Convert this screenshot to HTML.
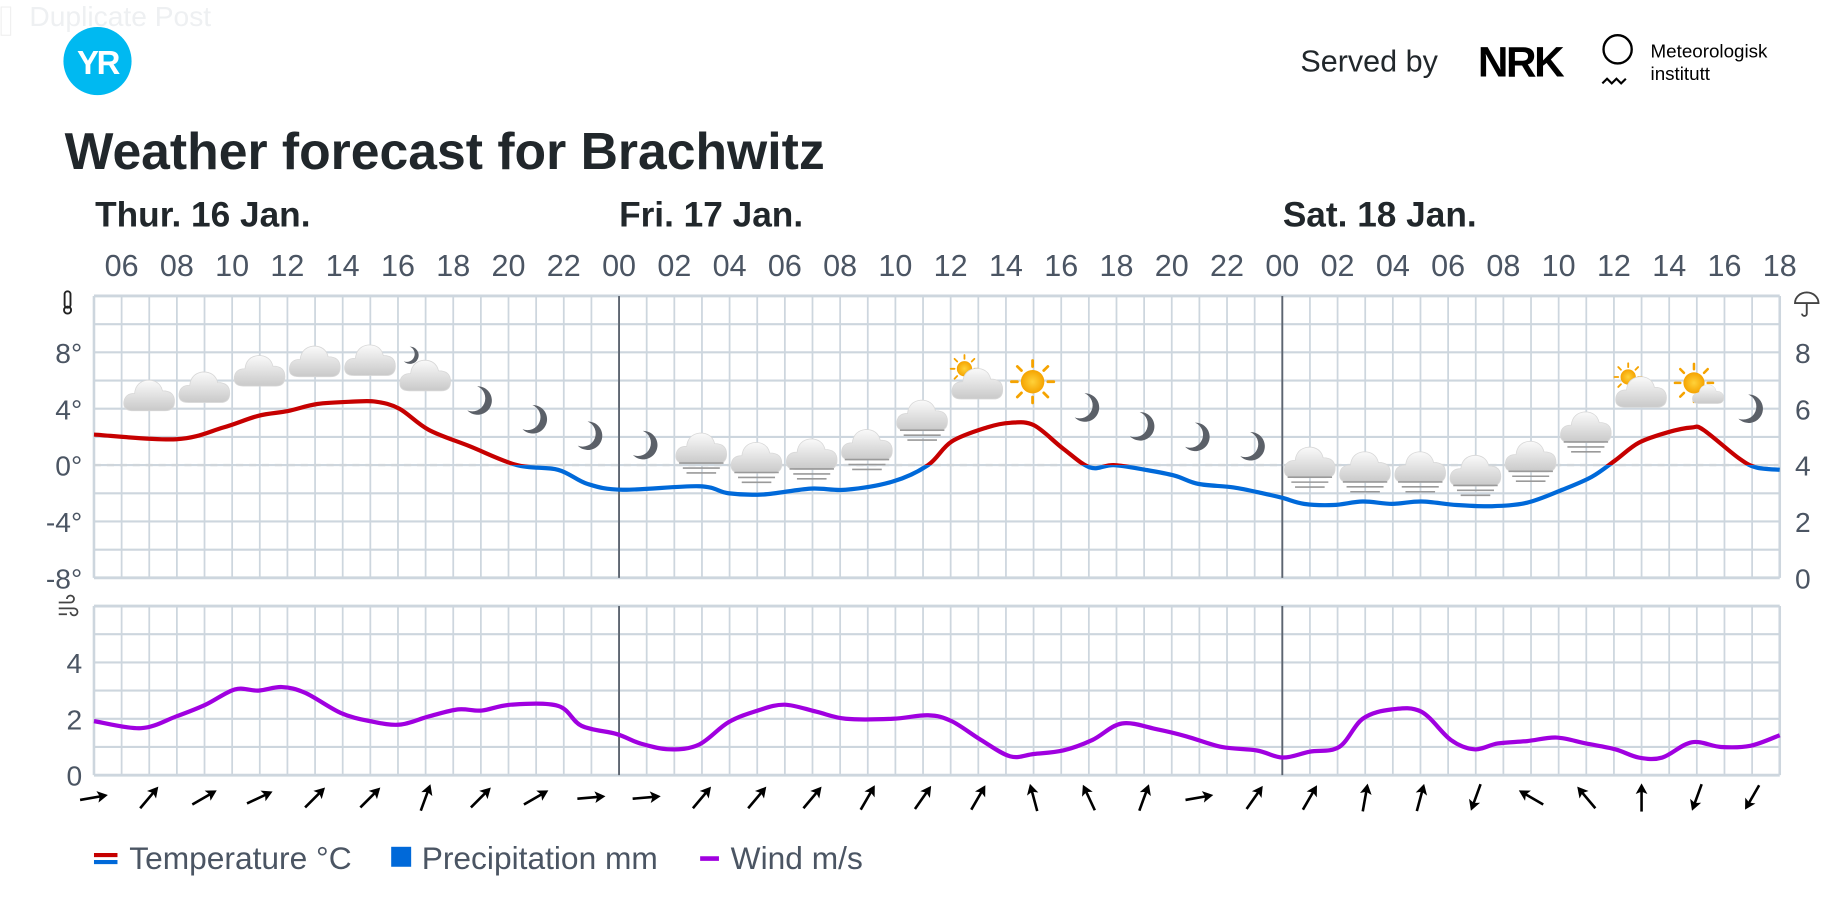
<!DOCTYPE html>
<html><head><meta charset="utf-8">
<style>
html,body{margin:0;padding:0;background:#fff;width:1842px;height:902px;overflow:hidden}
svg{display:block}
text{font-family:"Liberation Sans",sans-serif}
</style></head>
<body>
<svg id="s" width="1842" height="902" viewBox="0 0 1568 768" preserveAspectRatio="none" xmlns="http://www.w3.org/2000/svg">
<defs>
<linearGradient id="cg" x1="0" y1="0" x2="0" y2="1"><stop offset="0" stop-color="#fafafa"/><stop offset="1" stop-color="#c9c9c9"/></linearGradient>
<radialGradient id="sg"><stop offset="0" stop-color="#ffd23a"/><stop offset="1" stop-color="#f5a300"/></radialGradient>
<symbol id="cloud" viewBox="0 0 40 30"><path d="M8 28 Q0 28 1 21 Q2 15 9 15 Q10 6 19 5 Q28 5 30 13 Q39 13 39 21 Q39 28 32 28 Z" fill="url(#cg)" stroke="#d8d8d8" stroke-width="0.6"/></symbol>
<symbol id="moon" viewBox="0 0 30 30"><path d="M12 2 A13 13 0 1 1 3 24 A11 11 0 0 0 12 2 Z" fill="#5b6068"/></symbol>
<symbol id="sun" viewBox="0 0 40 40"><g stroke="#f5a300" stroke-width="2.4" stroke-linecap="round"><line x1="20" y1="2" x2="20" y2="7"/><line x1="20" y1="33" x2="20" y2="38"/><line x1="2" y1="20" x2="7" y2="20"/><line x1="33" y1="20" x2="38" y2="20"/><line x1="7" y1="7" x2="10.5" y2="10.5"/><line x1="29.5" y1="29.5" x2="33" y2="33"/><line x1="7" y1="33" x2="10.5" y2="29.5"/><line x1="29.5" y1="10.5" x2="33" y2="7"/></g><circle cx="20" cy="20" r="10" fill="url(#sg)"/></symbol>
<symbol id="fog" viewBox="0 0 40 12"><g stroke="#9a9a9a" stroke-width="1.3"><line x1="2" y1="2" x2="38" y2="2"/><line x1="5" y1="6" x2="35" y2="6"/><line x1="8" y1="10" x2="32" y2="10"/></g></symbol>
<clipPath id="above"><rect x="0" y="0" width="1568" height="396"/></clipPath>
<clipPath id="below"><rect x="0" y="396" width="1568" height="400"/></clipPath>
</defs>

<text x="25" y="22" font-size="24" fill="#eef0f2">Duplicate Post</text>
<rect x="1" y="6" width="8" height="24" fill="none" stroke="#f0f0f0"/>
<circle cx="83" cy="52" r="29" fill="#00b9f1"/>
<text x="83" y="63" font-size="28" font-weight="bold" fill="#fff" text-anchor="middle" letter-spacing="-2">YR</text>

<text x="1107" y="61" font-size="26" fill="#21272b">Served by</text>
<text x="1258" y="65" font-size="36" font-weight="900" fill="#000" letter-spacing="-2" font-family="Liberation Sans">NRK</text>
<circle cx="1377" cy="42" r="12" fill="none" stroke="#000" stroke-width="2"/>
<path d="M1364 71 l4 -4 l4 4 l4 -4 l4 4 l4 -4" fill="none" stroke="#000" stroke-width="1.8"/>
<text x="1405" y="49" font-size="16" fill="#000" font-family="Liberation Mono">Meteorologisk</text>
<text x="1405" y="68" font-size="16" fill="#000" font-family="Liberation Mono">institutt</text>

<text x="55" y="144" font-size="44" font-weight="bold" fill="#21272b">Weather forecast for Brachwitz</text>
<text x="81" y="193" font-size="30" font-weight="bold" fill="#21272b">Thur. 16 Jan.</text>
<text x="527" y="193" font-size="30" font-weight="bold" fill="#21272b">Fri. 17 Jan.</text>
<text x="1092" y="193" font-size="30" font-weight="bold" fill="#21272b">Sat. 18 Jan.</text>

<g id="hours" font-size="26" fill="#4b5563" text-anchor="middle"></g>
<g id="grid"></g>
<g id="axis" font-size="24" fill="#4b5563"></g>
<g id="icons"></g>
<g id="curves"></g>
<g id="arrows"></g>

<g stroke="#222" fill="none" stroke-width="1.6"><rect x="55" y="248" width="5" height="14" rx="2.5"/><circle cx="57.5" cy="264" r="3"/></g>
<g stroke="#444" fill="none" stroke-width="1.6"><path d="M1528 258 a10 9 0 0 1 20 0 z"/><path d="M1538 258 v9 a2 2 0 0 1 -4 0"/></g>
<g stroke="#444" fill="none" stroke-width="1.5"><path d="M50 513 h10 a3 3 0 1 0 -3 -3"/><path d="M50 518 h13 a3 3 0 1 1 -3 3"/><path d="M50 523 h7"/></g>

<line x1="80" y1="728" x2="100" y2="728" stroke="#c60000" stroke-width="3.5"/>
<line x1="80" y1="734" x2="100" y2="734" stroke="#0069d9" stroke-width="3.5"/>
<text x="110" y="740" font-size="27" fill="#4b5563">Temperature °C</text>
<rect x="333" y="721" width="17" height="17" fill="#0069d9"/>
<text x="359" y="740" font-size="27" fill="#4b5563">Precipitation mm</text>
<line x1="596" y1="731" x2="612" y2="731" stroke="#a000e0" stroke-width="4"/>
<text x="622" y="740" font-size="27" fill="#4b5563">Wind m/s</text>
</svg>
<script>
const NS="http://www.w3.org/2000/svg";
function el(t,a,p){const e=document.createElementNS(NS,t);for(const k in a)e.setAttribute(k,a[k]);p.appendChild(e);return e;}
const L=80,R=1515,H=(R-L)/61;
const g=document.getElementById('grid');
function panel(top,bot){
  for(let y=top;y<=bot+0.1;y+=24) el('line',{x1:L,x2:R,y1:y,y2:y,stroke:'#cdd6de','stroke-width':(y==top||Math.abs(y-bot)<1)?2.4:1.8},g);
  for(let i=0;i<=61;i++){const x=L+i*H;el('line',{x1:x,x2:x,y1:top,y2:bot,stroke:'#cdd6de','stroke-width':(i==0||i==61)?2.2:1.5},g);}
  [19,43].forEach(i=>{const x=L+i*H;el('line',{x1:x,x2:x,y1:top,y2:bot,stroke:'#5d6570','stroke-width':1.6},g);});
}
panel(252,492);panel(516,660);
el('line',{x1:L,x2:R,y1:396,y2:396,stroke:'#cfd5da','stroke-width':2,'stroke-dasharray':'6 5'},g);
const hl=document.getElementById('hours');
for(let h=1;h<=61;h+=2){const hr=(5+h)%24;const t=el('text',{x:L+h*H,y:235},hl);t.textContent=String(hr).padStart(2,'0');}
const ax=document.getElementById('axis');
[['8°',300],['4°',348],['0°',396],['-4°',444],['-8°',492]].forEach(([s,y])=>{const t=el('text',{x:70,y:y+9,'text-anchor':'end'},ax);t.textContent=s;});
[['8',300],['6',348],['4',396],['2',444],['0',492]].forEach(([s,y])=>{const t=el('text',{x:1528,y:y+9},ax);t.textContent=s;});
[['4',564],['2',612],['0',660]].forEach(([s,y])=>{const t=el('text',{x:70,y:y+9,'text-anchor':'end'},ax);t.textContent=s;});
function sp(p){let d='M'+p[0][0]+' '+p[0][1];for(let i=0;i<p.length-1;i++){const p0=p[i-1]||p[i],p1=p[i],p2=p[i+1],p3=p[i+2]||p2;
 d+=' C'+(p1[0]+(p2[0]-p0[0])/6)+' '+(p1[1]+(p2[1]-p0[1])/6)+' '+(p2[0]-(p3[0]-p1[0])/6)+' '+(p2[1]-(p3[1]-p1[1])/6)+' '+p2[0]+' '+p2[1];}return d;}
const temp=[[80,370],[150,374],[190,364],[220,354],[245,350],[270,344],[300,342],[320,342],[340,348],[365,366],[400,380],[440,396],[475,400],[500,412],[530,417],[595,414],[620,420],[650,421],[690,416],[720,417],[760,410],[790,396],[810,376],[840,364],[860,360],[880,362],[905,382],[928,398],[948,396],[975,400],[1000,405],[1020,412],[1050,415],[1075,420],[1092,424],[1110,429],[1135,430],[1160,427],[1185,429],[1210,427],[1240,430],[1270,431],[1300,428],[1330,417],[1355,406],[1375,392],[1395,377],[1420,368],[1440,364],[1450,366],[1480,390],[1495,398],[1515,400]];
const wind=[[80,614],[120,620],[150,610],[175,600],[200,587],[220,588],[240,585],[260,590],[290,607],[315,614],[340,617],[365,610],[390,604],[410,605],[435,600],[475,601],[495,618],[525,625],[545,633],[570,638],[595,634],[620,615],[645,605],[668,600],[695,606],[720,612],[760,612],[790,609],[810,614],[835,630],[860,644],[880,642],[905,639],[930,630],[955,616],[985,621],[1010,627],[1040,636],[1070,639],[1092,645],[1115,640],[1140,636],[1160,612],[1185,604],[1210,606],[1235,630],[1255,638],[1275,633],[1300,631],[1325,628],[1350,633],[1375,638],[1395,645],[1415,645],[1440,632],[1465,636],[1490,635],[1515,626]];
const cv=document.getElementById('curves');
const td=sp(temp);
el('path',{d:td,fill:'none',stroke:'#c60000','stroke-width':3.6,'clip-path':'url(#above)'},cv);
el('path',{d:td,fill:'none',stroke:'#0069d9','stroke-width':3.6,'clip-path':'url(#below)'},cv);
el('path',{d:sp(wind),fill:'none',stroke:'#a000e0','stroke-width':3.6},cv);
const ic=document.getElementById('icons');
function use(id,x,y,w,h){el('use',{href:'#'+id,x:x,y:y,width:w,height:h},ic);}
const icons=[['c',127,335],['c',174,328],['c',221,314],['c',268,306],['c',315,305],['cm',362,318],['m',409,341],['m',456,357],['m',503,371],['m',550,379],['cf',597,380],['cf',644,388],['cf',691,385],['cf',738,377],['cf',785,352],['ps',832,325],['s',879,325],['m',926,347],['m',973,363],['m',1020,372],['m',1067,380],['cf',1115,392],['cf',1162,396],['cf',1209,396],['cf',1256,399],['cf',1303,387],['cf',1350,362],['ps',1397,332],['ps2',1444,330],['m',1491,348]];
icons.forEach(([t,x,y])=>{
 if(t=='m'){use('moon',x-14,y-14,28,28);return;}
 if(t=='s'){use('sun',x-20,y-20,40,40);return;}
 if(t=='cm'){use('moon',x-20,y-24,17,17);}
 if(t=='ps'){use('sun',x-24,y-24,26,26);}
 if(t=='ps2'){use('sun',x-20,y-22,36,36);use('cloud',x-4,y-6,28,21);return;}
 use('cloud',x-23,y-17,46,34);
 if(t=='cf')use('fog',x-21,y+12,42,13);
});
const ang=[80,40,60,65,45,45,20,45,60,85,85,40,40,40,30,35,30,-15,-25,20,80,35,30,10,15,200,-60,-40,0,200,210];
const ar=document.getElementById('arrows');
ang.forEach((a,i)=>{const x=L+i*2*H,y=679;const gg=el('g',{transform:`translate(${x},${y}) rotate(${a})`},ar);
 el('line',{x1:0,y1:12,x2:0,y2:-8,stroke:'#000','stroke-width':2.2},gg);
 el('path',{d:'M0 -12 L-5 -3 L0 -5 L5 -3 Z',fill:'#000'},gg);});
</script>
</body></html>
